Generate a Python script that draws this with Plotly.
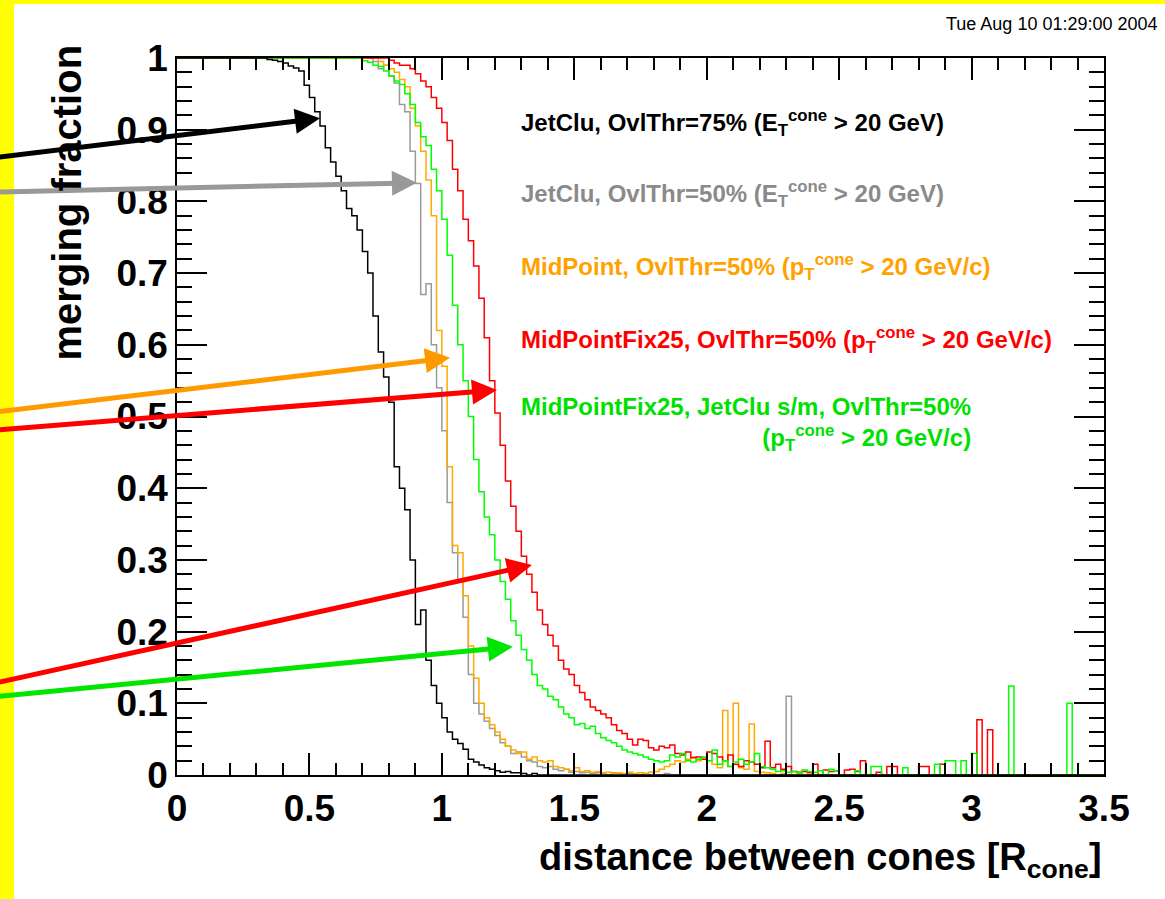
import plotly.graph_objects as go

# Histogram binning: 175 bins of width 0.02 over [0, 3.5]
BIN_WIDTH = 0.02
X_MIN = 0.0

# Merging fraction per bin, one list per cone algorithm
jetclu75 = [
    1.0, 1.0, 1.0, 1.0, 1.0, 1.0, 1.0, 1.0, 1.0, 1.0, 1.0, 1.0, 1.0, 1.0, 1.0, 1.0, 1.0, 0.998, 0.997, 0.995, 0.993, 0.989, 0.986, 0.982, 0.962,
    0.945, 0.925, 0.905, 0.875, 0.855, 0.835, 0.815, 0.79, 0.78, 0.76, 0.73, 0.70, 0.64, 0.59, 0.555, 0.52, 0.43, 0.40, 0.37, 0.30, 0.21, 0.23, 0.16, 0.125, 0.10,
    0.08, 0.06, 0.05, 0.044, 0.036, 0.022, 0.018, 0.014, 0.01, 0.008, 0.006, 0.004, 0.005, 0.003, 0.003, 0.002, 0.0, 0.002, 0.0, 0.0, 0.0, 0.0, 0.0, 0.0, 0.0,
    0.0, 0.0, 0.0, 0.0, 0.0, 0.0, 0.0, 0.0, 0.0, 0.0, 0.0, 0.0, 0.0, 0.0, 0.0, 0.0, 0.0, 0.0, 0.0, 0.0, 0.0, 0.0, 0.0, 0.0, 0.0,
    0.0, 0.0, 0.0, 0.0, 0.0, 0.0, 0.0, 0.0, 0.0, 0.0, 0.0, 0.0, 0.0, 0.0, 0.0, 0.0, 0.0, 0.0, 0.0, 0.0, 0.0, 0.0, 0.0, 0.0, 0.0,
    0.0, 0.0, 0.0, 0.0, 0.0, 0.0, 0.0, 0.0, 0.0, 0.0, 0.0, 0.0, 0.0, 0.0, 0.0, 0.0, 0.0, 0.0, 0.0, 0.0, 0.0, 0.0, 0.0, 0.0, 0.0,
    0.0, 0.0, 0.0, 0.0, 0.0, 0.0, 0.0, 0.0, 0.0, 0.0, 0.0, 0.0, 0.0, 0.0, 0.0, 0.0, 0.0, 0.0, 0.0, 0.0, 0.0, 0.0, 0.0, 0.0, 0.0,
]

jetclu50 = [
    1.0, 1.0, 1.0, 1.0, 1.0, 1.0, 1.0, 1.0, 1.0, 1.0, 1.0, 1.0, 1.0, 1.0, 1.0, 1.0, 1.0, 1.0, 1.0, 1.0, 1.0, 1.0, 1.0, 1.0, 1.0,
    1.0, 1.0, 1.0, 1.0, 1.0, 1.0, 1.0, 1.0, 1.0, 1.0, 1.0, 1.0, 0.995, 0.985, 0.99, 0.975, 0.965, 0.935, 0.925, 0.87, 0.825, 0.67, 0.685, 0.60, 0.54,
    0.48, 0.38, 0.31, 0.27, 0.22, 0.14, 0.10, 0.085, 0.075, 0.065, 0.055, 0.045, 0.04, 0.03, 0.032, 0.025, 0.02, 0.018, 0.012, 0.01, 0.012, 0.008, 0.006, 0.008, 0.004,
    0.005, 0.003, 0.004, 0.002, 0.003, 0.002, 0.0, 0.003, 0.002, 0.0, 0.002, 0.0, 0.0, 0.002, 0.0, 0.0, 0.0, 0.002, 0.0, 0.0, 0.0, 0.0, 0.0, 0.0, 0.0,
    0.0, 0.0, 0.0, 0.0, 0.0, 0.0, 0.0, 0.0, 0.0, 0.0, 0.0, 0.0, 0.0, 0.0, 0.0, 0.11, 0.0, 0.0, 0.0, 0.0, 0.0, 0.0, 0.0, 0.0, 0.0,
    0.0, 0.0, 0.0, 0.0, 0.0, 0.0, 0.0, 0.0, 0.0, 0.0, 0.0, 0.0, 0.0, 0.0, 0.0, 0.0, 0.0, 0.0, 0.0, 0.0, 0.0, 0.0, 0.0, 0.0, 0.0,
    0.0, 0.0, 0.0, 0.0, 0.0, 0.0, 0.0, 0.0, 0.0, 0.0, 0.0, 0.0, 0.0, 0.0, 0.0, 0.0, 0.0, 0.0, 0.0, 0.0, 0.0, 0.0, 0.0, 0.0, 0.0,
]

midpoint50 = [
    1.0, 1.0, 1.0, 1.0, 1.0, 1.0, 1.0, 1.0, 1.0, 1.0, 1.0, 1.0, 1.0, 1.0, 1.0, 1.0, 1.0, 1.0, 1.0, 1.0, 1.0, 1.0, 1.0, 1.0, 1.0,
    1.0, 1.0, 1.0, 1.0, 1.0, 1.0, 1.0, 1.0, 1.0, 1.0, 1.0, 1.0, 1.0, 0.995, 0.99, 0.985, 0.98, 0.97, 0.96, 0.93, 0.905, 0.87, 0.83, 0.78, 0.62,
    0.57, 0.43, 0.32, 0.31, 0.25, 0.18, 0.135, 0.10, 0.08, 0.07, 0.06, 0.05, 0.04, 0.035, 0.03, 0.032, 0.022, 0.025, 0.02, 0.018, 0.02, 0.012, 0.01, 0.008, 0.006,
    0.01, 0.005, 0.006, 0.004, 0.005, 0.003, 0.004, 0.002, 0.003, 0.002, 0.004, 0.002, 0.003, 0.002, 0.004, 0.005, 0.008, 0.012, 0.015, 0.02, 0.018, 0.022, 0.025, 0.02, 0.024,
    0.02, 0.015, 0.01, 0.09, 0.012, 0.10, 0.01, 0.008, 0.071, 0.005, 0.004, 0.003, 0.002, 0.0, 0.002, 0.0, 0.0, 0.002, 0.0, 0.0, 0.0, 0.0, 0.0, 0.0, 0.0,
    0.0, 0.0, 0.0, 0.0, 0.0, 0.0, 0.0, 0.0, 0.0, 0.0, 0.0, 0.0, 0.0, 0.0, 0.0, 0.0, 0.0, 0.0, 0.0, 0.0, 0.0, 0.0, 0.0, 0.0, 0.0,
    0.0, 0.0, 0.0, 0.0, 0.0, 0.0, 0.0, 0.0, 0.0, 0.0, 0.0, 0.0, 0.0, 0.0, 0.0, 0.0, 0.0, 0.0, 0.0, 0.0, 0.0, 0.0, 0.0, 0.0, 0.0,
]

midpointfix25 = [
    1.0, 1.0, 1.0, 1.0, 1.0, 1.0, 1.0, 1.0, 1.0, 1.0, 1.0, 1.0, 1.0, 1.0, 1.0, 1.0, 1.0, 1.0, 1.0, 1.0, 1.0, 1.0, 1.0, 1.0, 1.0,
    1.0, 1.0, 1.0, 1.0, 1.0, 1.0, 1.0, 1.0, 1.0, 1.0, 1.0, 1.0, 1.0, 1.0, 1.0, 0.997, 0.993, 0.99, 0.99, 0.985, 0.978, 0.968, 0.96, 0.945, 0.93,
    0.91, 0.885, 0.845, 0.815, 0.775, 0.745, 0.71, 0.665, 0.61, 0.55, 0.505, 0.46, 0.41, 0.375, 0.34, 0.305, 0.28, 0.255, 0.23, 0.21, 0.195, 0.18, 0.16, 0.148, 0.14,
    0.125, 0.115, 0.105, 0.095, 0.09, 0.085, 0.08, 0.07, 0.062, 0.058, 0.05, 0.042, 0.05, 0.048, 0.038, 0.035, 0.04, 0.038, 0.042, 0.03, 0.028, 0.032, 0.024, 0.025, 0.022,
    0.032, 0.03, 0.025, 0.02, 0.028, 0.015, 0.012, 0.02, 0.018, 0.015, 0.01, 0.047, 0.01, 0.015, 0.008, 0.012, 0.005, 0.004, 0.005, 0.003, 0.015, 0.0, 0.007, 0.005, 0.006,
    0.0, 0.007, 0.008, 0.005, 0.02, 0.0, 0.0, 0.004, 0.0, 0.012, 0.012, 0.0, 0.0, 0.0, 0.0, 0.012, 0.012, 0.0, 0.0, 0.015, 0.0, 0.0, 0.0, 0.0, 0.0,
    0.0, 0.077, 0.0, 0.063, 0.0, 0.0, 0.0, 0.0, 0.0, 0.0, 0.0, 0.0, 0.0, 0.0, 0.0, 0.0, 0.0, 0.0, 0.0, 0.0, 0.0, 0.0, 0.0, 0.0, 0.0,
]

midpointfix25_jetclu = [
    1.0, 1.0, 1.0, 1.0, 1.0, 1.0, 1.0, 1.0, 1.0, 1.0, 1.0, 1.0, 1.0, 1.0, 1.0, 1.0, 1.0, 1.0, 1.0, 1.0, 1.0, 1.0, 1.0, 1.0, 1.0,
    1.0, 1.0, 1.0, 1.0, 1.0, 1.0, 1.0, 1.0, 1.0, 1.0, 0.996, 0.994, 0.99, 0.988, 0.982, 0.975, 0.968, 0.963, 0.95, 0.935, 0.91, 0.89, 0.878, 0.845, 0.815,
    0.775, 0.725, 0.655, 0.6, 0.55, 0.5, 0.44, 0.395, 0.36, 0.335, 0.30, 0.27, 0.245, 0.215, 0.195, 0.175, 0.16, 0.14, 0.125, 0.12, 0.11, 0.105, 0.095, 0.085, 0.08,
    0.07, 0.072, 0.065, 0.068, 0.058, 0.052, 0.048, 0.045, 0.04, 0.035, 0.032, 0.03, 0.028, 0.025, 0.022, 0.02, 0.018, 0.02, 0.028, 0.025, 0.03, 0.02, 0.018, 0.022, 0.025,
    0.02, 0.035, 0.015, 0.02, 0.012, 0.018, 0.022, 0.015, 0.018, 0.03, 0.012, 0.01, 0.008, 0.005, 0.006, 0.004, 0.005, 0.003, 0.007, 0.005, 0.004, 0.006, 0.0, 0.008, 0.006,
    0.0, 0.0, 0.0, 0.006, 0.0, 0.0, 0.012, 0.012, 0.0, 0.0, 0.0, 0.0, 0.01, 0.0, 0.0, 0.0, 0.0, 0.0, 0.015, 0.0, 0.02, 0.02, 0.0, 0.02, 0.0,
    0.03, 0.0, 0.0, 0.0, 0.0, 0.0, 0.0, 0.124, 0.0, 0.0, 0.0, 0.0, 0.0, 0.0, 0.0, 0.0, 0.0, 0.0, 0.1, 0.0, 0.0, 0.0, 0.0, 0.0, 0.0,
]

FONT = "Liberation Sans, Arial, Helvetica, sans-serif"

# (values, line colour, legend text, text colour) -- drawn in this order
series = [
    (jetclu50, "#9a9a9a",
     "JetClu, OvlThr=50% (E<sub>T</sub><sup>cone</sup> &gt; 20 GeV)", "#8a8a8a"),
    (midpoint50, "#ffaa00",
     "MidPoint, OvlThr=50% (p<sub>T</sub><sup>cone</sup> &gt; 20 GeV/c)", "#ffa200"),
    (midpointfix25, "#ff0000",
     "MidPointFix25, OvlThr=50% (p<sub>T</sub><sup>cone</sup> &gt; 20 GeV/c)", "#ff0000"),
    (midpointfix25_jetclu, "#00ff00",
     "MidPointFix25, JetClu s/m, OvlThr=50%<br>(p<sub>T</sub><sup>cone</sup> &gt; 20 GeV/c)", "#00e000"),
    (jetclu75, "#000000",
     "JetClu, OvlThr=75% (E<sub>T</sub><sup>cone</sup> &gt; 20 GeV)", "#000000"),
]

fig = go.Figure()
for values, color, _, _ in series:
    edges = [X_MIN + i * BIN_WIDTH for i in range(len(values) + 1)]
    fig.add_trace(go.Scatter(
        x=edges, y=values + [values[-1]], mode="lines", line_shape="hv",
        line=dict(color=color, width=1.5), showlegend=False, hoverinfo="skip",
    ))

# Legend-like labels, stacked top to bottom in the plot area (paper coords)
label_order = [4, 0, 1, 2, 3]
label_y = [0.909, 0.810, 0.709, 0.607, 0.490]
annotations = []
for idx, yp in zip(label_order, label_y):
    _, _, text, tcolor = series[idx]
    annotations.append(dict(
        xref="paper", yref="paper", x=0.369, y=yp, xanchor="left", yanchor="middle",
        text=text, showarrow=False, align="right",
        font=dict(family=FONT, size=24, color=tcolor, weight="bold"),
    ))

# Pointer arrows: (colour, head x, head y, tail x, tail y) in data units
arrows = [
    ("#000000", 0.540, 0.916, -0.69, 0.861),
    ("#999999", 0.906, 0.826, -0.69, 0.813),
    ("#ff9900", 1.031, 0.582, -0.69, 0.506),
    ("#ff0000", 1.208, 0.537, -0.69, 0.481),
    ("#ff0000", 1.340, 0.293, -0.69, 0.128),
    ("#00e600", 1.268, 0.179, -0.69, 0.109),
]
for color, hx, hy, tx, ty in arrows:
    annotations.append(dict(
        x=hx, y=hy, xref="x", yref="y", ax=tx, ay=ty, axref="x", ayref="y",
        text="", showarrow=True, arrowhead=2, arrowsize=1.0, arrowwidth=5,
        arrowcolor=color, standoff=0,
    ))

# Axis titles and time stamp
annotations += [
    dict(xref="paper", yref="paper", x=-0.119, y=0.798, textangle=-90,
         xanchor="center", yanchor="middle", showarrow=False,
         text="merging fraction",
         font=dict(family=FONT, size=40, color="black", weight="bold")),
    dict(xref="paper", yref="paper", x=1.0, y=-0.118, xanchor="right",
         yanchor="middle", showarrow=False,
         text="distance between cones [R<sub>cone</sub>]",
         font=dict(family=FONT, size=38, color="black", weight="bold")),
    dict(xref="paper", yref="paper", x=1.0604, y=1.0474, xanchor="right",
         yanchor="middle", showarrow=False, text="Tue Aug 10 01:29:00 2004",
         font=dict(family=FONT, size=18, color="black")),
]

# Yellow frame strips along the left and top page edges
shapes = [
    dict(type="rect", xref="paper", yref="paper", x0=-0.2, x1=-0.1758,
         y0=-0.2, y1=1.1, fillcolor="#ffff00", line=dict(width=0), layer="below"),
    dict(type="rect", xref="paper", yref="paper", x0=-0.2, x1=1.1,
         y0=1.0753, y1=1.1, fillcolor="#ffff00", line=dict(width=0), layer="below"),
]

tick_font = dict(family=FONT, size=37, color="black", weight="bold")
fig.update_layout(
    width=1165, height=899, autosize=False,
    margin=dict(l=177, r=61, t=58, b=124, pad=0),
    paper_bgcolor="white", plot_bgcolor="white",
    annotations=annotations, shapes=shapes,
    xaxis=dict(
        range=[0, 3.5], tick0=0, dtick=0.5, showgrid=False, zeroline=False,
        showline=True, linecolor="black", linewidth=1.5, mirror="ticks",
        ticks="inside", ticklen=22, tickwidth=1.5, tickcolor="black",
        minor=dict(dtick=0.1, ticks="inside", ticklen=12, tickwidth=1.5,
                   tickcolor="black", showgrid=False),
        tickfont=tick_font,
    ),
    yaxis=dict(
        range=[0, 1], tick0=0, dtick=0.1, showgrid=False, zeroline=False,
        showline=True, linecolor="black", linewidth=1.5, mirror="ticks",
        ticks="inside", ticklen=30, tickwidth=1.5, tickcolor="black",
        minor=dict(dtick=0.02, ticks="inside", ticklen=15, tickwidth=1.5,
                   tickcolor="black", showgrid=False),
        tickfont=tick_font,
    ),
)

fig.write_html("out.html")
